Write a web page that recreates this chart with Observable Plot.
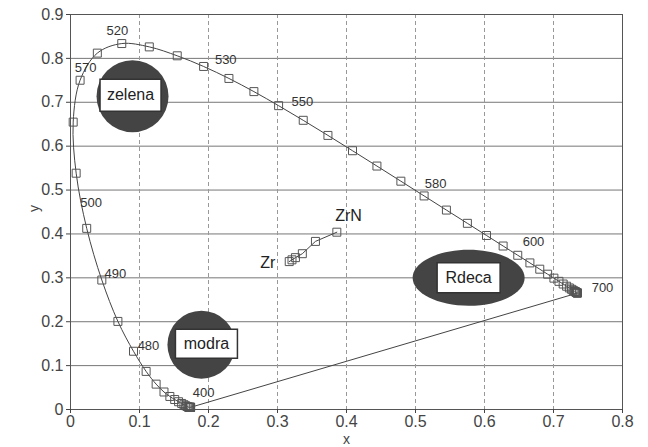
<!DOCTYPE html>
<html>
<head>
<meta charset="utf-8">
<script src="https://cdn.jsdelivr.net/npm/d3@7"></script>
<script src="https://cdn.jsdelivr.net/npm/@observablehq/plot@0.6"></script>
<style>
  html, body { margin: 0; padding: 0; background: #fff; }
  svg { font-family: "Liberation Sans", Arial, sans-serif; }
</style>
</head>
<body>
<div id="chart"></div>
<script>
// CIE 1931 spectral locus, 5 nm steps
const wavelengths = [380,385,390,395,400,405,410,415,420,425,430,435,440,445,450,455,460,465,470,475,480,485,490,495,500,505,510,515,520,525,530,535,540,545,550,555,560,565,570,575,580,585,590,595,600,605,610,615,620,625,630,635,640,645,650,655,660,665,670,675,680,685,690,695,700];
const locusX = [0.1741,0.1740,0.1738,0.1736,0.1733,0.1730,0.1726,0.1721,0.1714,0.1703,0.1689,0.1669,0.1644,0.1611,0.1566,0.1510,0.1440,0.1355,0.1241,0.1096,0.0913,0.0687,0.0454,0.0235,0.0082,0.0039,0.0139,0.0389,0.0743,0.1142,0.1547,0.1929,0.2296,0.2658,0.3016,0.3373,0.3731,0.4087,0.4441,0.4788,0.5125,0.5448,0.5752,0.6029,0.6270,0.6482,0.6658,0.6801,0.6915,0.7006,0.7079,0.7140,0.7190,0.7230,0.7260,0.7283,0.7300,0.7311,0.7320,0.7327,0.7334,0.7340,0.7344,0.7346,0.7347];
const locusY = [0.0050,0.0050,0.0049,0.0049,0.0048,0.0048,0.0048,0.0048,0.0051,0.0058,0.0069,0.0086,0.0109,0.0138,0.0177,0.0227,0.0297,0.0399,0.0578,0.0868,0.1327,0.2007,0.2950,0.4127,0.5384,0.6548,0.7502,0.8120,0.8338,0.8262,0.8059,0.7816,0.7543,0.7243,0.6923,0.6589,0.6245,0.5896,0.5547,0.5202,0.4866,0.4544,0.4242,0.3965,0.3725,0.3514,0.3340,0.3197,0.3083,0.2993,0.2920,0.2859,0.2809,0.2770,0.2740,0.2717,0.2700,0.2689,0.2680,0.2673,0.2666,0.2660,0.2656,0.2654,0.2653];

// Wavelength labels as printed
const wlLabels = ["520","570","530","550","580","600","700","500","490","480","400"];
const wlLabelX = [0.068,0.022,0.225,0.336,0.529,0.671,0.771,0.030,0.065,0.113,0.193];
const wlLabelY = [0.863,0.779,0.797,0.702,0.515,0.383,0.278,0.472,0.310,0.144,0.039];

// Zr -> ZrN colour path
const zrX = [0.317,0.321,0.326,0.336,0.355,0.386];
const zrY = [0.337,0.341,0.346,0.355,0.383,0.404];
const zrLabels = ["Zr","ZrN"];
const zrLabelX = [0.286,0.403];
const zrLabelY = [0.333,0.442];

// Colour regions
const regionNames = ["zelena","modra","Rdeca"];
const regionX = [0.087,0.197,0.577];
const regionY = [0.716,0.150,0.300];

// Axis ticks
const xTicks = [0,0.1,0.2,0.3,0.4,0.5,0.6,0.7,0.8];
const yTicks = [0,0.1,0.2,0.3,0.4,0.5,0.6,0.7,0.8,0.9];

const locus = wavelengths.map((w,i)=>({w, x: locusX[i], y: locusY[i]}));
const wl = wlLabels.map((t,i)=>({t, x: wlLabelX[i], y: wlLabelY[i]}));
const zr = zrX.map((x,i)=>({x, y: zrY[i]}));
const zrL = zrLabels.map((t,i)=>({t, x: zrLabelX[i], y: zrLabelY[i]}));
const regions = regionNames.map((t,i)=>({t, x: regionX[i], y: regionY[i]}));
const purple = [{x1: locusX[0], y1: locusY[0], x2: locusX[locusX.length-1], y2: locusY[locusY.length-1]}];

function ellipseSymbol(a) {
  return {
    draw(ctx, size) {
      const r = Math.sqrt(size / Math.PI);
      const rx = r * a, ry = r, k = 0.5523;
      const kx = rx * k, ky = ry * k;
      ctx.moveTo(rx, 0);
      ctx.bezierCurveTo(rx, ky, kx, ry, 0, ry);
      ctx.bezierCurveTo(-kx, ry, -rx, ky, -rx, 0);
      ctx.bezierCurveTo(-rx, -ky, -kx, -ry, 0, -ry);
      ctx.bezierCurveTo(kx, -ry, rx, -ky, rx, 0);
      ctx.closePath();
    }
  };
}
function boxSymbol(w, h) {
  return {
    draw(ctx) {
      ctx.moveTo(-w/2, -h/2);
      ctx.lineTo(w/2, -h/2);
      ctx.lineTo(w/2, h/2);
      ctx.lineTo(-w/2, h/2);
      ctx.closePath();
    }
  };
}

const fmt = d => d === 0 ? "0" : String(+d.toFixed(1));
const blobFill = "#444";

const chart = Plot.plot({
  width: 648,
  height: 447,
  marginLeft: 70,
  marginRight: 26,
  marginTop: 14,
  marginBottom: 38,
  style: {fontFamily: "Liberation Sans, Arial, sans-serif", fontSize: "16px", color: "#444", background: "#fff"},
  x: {domain: [0, 0.8]},
  y: {domain: [0, 0.9]},
  marks: [
    Plot.gridY(yTicks, {stroke: "#777", strokeOpacity: 1}),
    Plot.gridX(xTicks, {stroke: "#999", strokeOpacity: 1, strokeDasharray: "4,3"}),
    Plot.frame({stroke: "#555"}),
    Plot.axisX(xTicks, {tickFormat: fmt, tickSize: 4, tickPadding: 2, fontSize: 16, fill: "#444", label: null}),
    Plot.axisY(yTicks, {tickFormat: fmt, tickSize: 4, tickPadding: 3, fontSize: 16, fill: "#444", label: null}),
    Plot.text(["x"], {frameAnchor: "bottom", dy: 34, fontSize: 14, fill: "#444"}),
    Plot.text(["y"], {frameAnchor: "left", dx: -36, rotate: -90, fontSize: 14, fill: "#444"}),
    Plot.line(locus, {x: "x", y: "y", stroke: "#444", strokeWidth: 1, curve: "catmull-rom"}),
    Plot.link(purple, {x1: "x1", y1: "y1", x2: "x2", y2: "y2", stroke: "#444", strokeWidth: 1}),
    Plot.dot(locus, {x: "x", y: "y", symbol: "square", r: 4.5, stroke: "#555", strokeWidth: 1, fill: "none"}),
    Plot.line(zr, {x: "x", y: "y", stroke: "#444", strokeWidth: 1}),
    Plot.dot(zr, {x: "x", y: "y", symbol: "square", r: 4.5, stroke: "#555", strokeWidth: 1, fill: "none"}),
    Plot.text(wl, {x: "x", y: "y", text: "t", fontSize: 13, fill: "#333"}),
    Plot.text(zrL, {x: "x", y: "y", text: "t", fontSize: 16, fill: "#222"}),
    // region blobs
    Plot.dot(regions.filter(d => d.t === "zelena"), {x: "x", y: "y", r: 36, dx: 2, dy: 1, fill: blobFill, stroke: "none"}),
    Plot.dot(regions.filter(d => d.t === "modra"), {x: "x", y: "y", r: 34, dx: -5, dy: 1, fill: blobFill, stroke: "none"}),
    Plot.dot(regions.filter(d => d.t === "Rdeca"), {x: "x", y: "y", r: 28, symbol: ellipseSymbol(2), fill: blobFill, stroke: "none"}),
    // label boxes
    Plot.dot(regions.filter(d => d.t === "zelena"), {x: "x", y: "y", symbol: boxSymbol(61, 32), r: 1, fill: "#fff", stroke: "#333"}),
    Plot.dot(regions.filter(d => d.t === "modra"), {x: "x", y: "y", symbol: boxSymbol(62, 29), r: 1, fill: "#fff", stroke: "#333"}),
    Plot.dot(regions.filter(d => d.t === "Rdeca"), {x: "x", y: "y", symbol: boxSymbol(63, 30), r: 1, fill: "#fff", stroke: "#333"}),
    Plot.text(regions, {x: "x", y: "y", text: "t", fontSize: 16, fill: "#222"})
  ]
});
document.getElementById("chart").appendChild(chart);
</script>
</body>
</html>
